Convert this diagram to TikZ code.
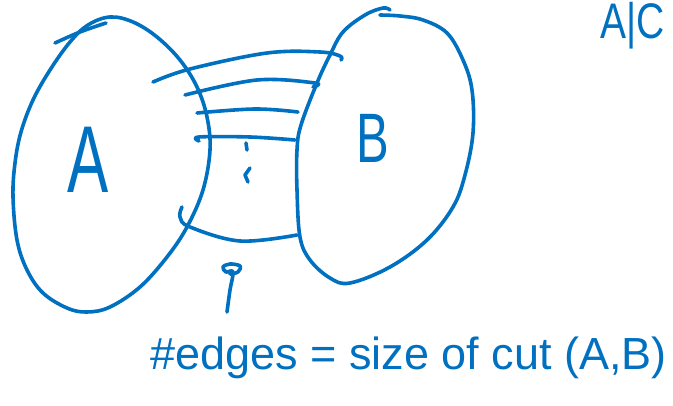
\documentclass[tikz,border=0pt]{standalone}
\usepackage{fontspec}
\setmainfont{Liberation Sans}
\definecolor{ink}{RGB}{0,112,192}
\begin{document}
\begin{tikzpicture}[x=1pt,y=-1pt,
  pen/.style={draw=ink,line width=3.6pt,line cap=round,line join=round},
  hand/.style={text=ink,inner sep=0pt}]
\clip (0,0) rectangle (673,406);
\fill[white] (0,0) rectangle (673,406);
% left set A
\draw[pen] plot[smooth cycle,tension=0.6] coordinates {(110,17) (133,22) (157,37) (180,60) (197,87) (207,117) (210,150) (203,190) (187,227) (167,257) (140,287) (110,307) (87,312) (67,308) (43,293) (27,270) (17,240) (13,197) (15,163) (21,132) (33,100) (50,70) (70,42) (88,25)};
\draw[pen] plot[smooth,tension=0.6] coordinates {(55,43) (80,32) (106,23)};
% right set B
\draw[pen] plot[smooth,tension=0.6] coordinates {(380,15) (400,16) (423,20) (447,33) (463,60) (472,90) (473,133) (465,175) (453,207) (427,240) (390,267) (350,283) (330,278) (310,260) (300,237) (297,190) (297,150) (301,125) (317,83) (330,55) (343,32) (365,15) (383,8) (390,10)};
% cut edges
\draw[pen] plot[smooth,tension=0.6] coordinates {(153,82) (190,69) (267,53) (320,52) (340,56) (341,60)};
\draw[pen] plot[smooth,tension=0.6] coordinates {(185,95) (257,80) (315,83) (313,87)};
\draw[pen] plot[smooth,tension=0.6] coordinates {(197,113) (255,109) (298,112)};
\draw[pen] plot[smooth,tension=0.6] coordinates {(199,141) (199,137) (250,137) (295,140)};
\draw[pen] plot[smooth,tension=0.6] coordinates {(182,207) (180,217) (190,227) (240,241) (297,235)};
\draw[pen] (246,143) -- (247,150);
\draw[pen] (250,168) -- (245,175) -- (248,182);
% pointer
\draw[pen] plot[smooth,tension=0.6] coordinates {(227,312) (230,290) (233,272) (226,272) (223,267) (230,264) (240,266) (238,272) (230,274)};
% labels
\node[hand,font=\fontsize{95}{95}\selectfont,xscale=0.65] (la) at (88,160) {A};
\node[hand,font=\fontsize{70}{70}\selectfont,xscale=0.7] (lb) at (373,138) {B};
\node[hand,font=\fontsize{45}{45}\selectfont,anchor=base west] (cut) at (150,370) {\#edges = size of cut (A,B)};
\node[hand,font=\fontsize{50}{50}\selectfont,xscale=0.78,anchor=north west] (corner) at (600,2) {A|C};
\end{tikzpicture}
\end{document}
